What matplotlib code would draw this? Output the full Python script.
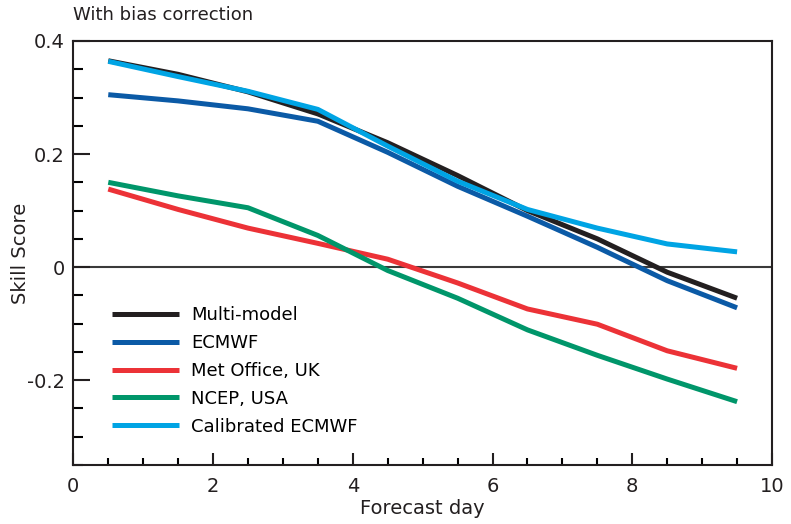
import matplotlib.pyplot as plt
import numpy as np
from matplotlib.ticker import MultipleLocator

plt.rcParams['font.family'] = ['Liberation Sans Narrow', 'DejaVu Sans']

# skill score per forecast day (values at mid-day)
days = [0.5, 1.5, 2.5, 3.5, 4.5, 5.5, 6.5, 7.5, 8.5, 9.5]
multi_model = [0.365, 0.341, 0.310, 0.271, 0.220, 0.162, 0.100, 0.050, -0.009, -0.055]
ecmwf = [0.305, 0.294, 0.280, 0.258, 0.203, 0.143, 0.090, 0.035, -0.024, -0.072]
met_office = [0.138, 0.102, 0.069, 0.042, 0.014, -0.028, -0.074, -0.101, -0.148, -0.179]
ncep = [0.150, 0.126, 0.105, 0.056, -0.006, -0.055, -0.111, -0.156, -0.198, -0.238]
calibrated = [0.364, 0.337, 0.311, 0.279, 0.214, 0.152, 0.102, 0.069, 0.041, 0.027]

labels = ['Multi-model', 'ECMWF', 'Met Office, UK', 'NCEP, USA', 'Calibrated ECMWF']
colors = ['#231f20', '#0b5aa6', '#ec3237', '#00966a', '#00a4e4']
series = [multi_model, ecmwf, met_office, ncep, calibrated]

fig = plt.figure(figsize=(7.91, 5.24), dpi=100)
ax = fig.add_axes([0.0927, 0.1126, 0.8833, 0.8092])

ax.axhline(0, color='#3a3a3a', lw=1.5, zorder=1)
lines = {}
for i in [2, 3, 1, 0, 4]:
    lines[i], = ax.plot(days, series[i], color=colors[i], lw=3.6,
                        solid_capstyle='butt', label=labels[i], zorder=2)

ax.set_xlim(0, 10)
ax.set_ylim(-0.35, 0.4)
ax.xaxis.set_minor_locator(MultipleLocator(0.5))
ax.yaxis.set_minor_locator(MultipleLocator(0.05))
ax.set_xticks([0, 2, 4, 6, 8, 10])
ax.set_xticklabels(['0', '2', '4', '6', '8', '10'])
ax.set_yticks([-0.2, 0, 0.2, 0.4])
ax.set_yticklabels(['-0.2', '0', '0.2', '0.4'])

ax.tick_params(axis='both', which='major', direction='in', width=1.5,
               labelsize=14, colors='#231f20')
ax.tick_params(axis='y', which='major', length=12, pad=6)
ax.tick_params(axis='y', which='minor', direction='in', length=7, width=1.5)
ax.tick_params(axis='x', which='major', length=9, pad=9)
ax.tick_params(axis='x', which='minor', direction='in', length=5, width=1.5)
for s in ax.spines.values():
    s.set_linewidth(1.5)
    s.set_color('#231f20')

ax.set_xlabel('Forecast day', fontsize=14, labelpad=2, color='#231f20')
ax.set_ylabel('Skill Score', fontsize=14, labelpad=-2, color='#231f20')
fig.text(0.0927, 0.955, 'With bias correction', fontsize=13, color='#231f20',
         va='bottom', ha='left')

handles = [lines[i] for i in range(5)]
ax.legend(handles, labels, frameon=False, loc='upper left',
          bbox_to_anchor=(0.055, 0.375), borderaxespad=0, borderpad=0,
          fontsize=13, handlelength=3.7, handletextpad=0.7, labelspacing=0.55)

fig.savefig('out.png', dpi=100)
